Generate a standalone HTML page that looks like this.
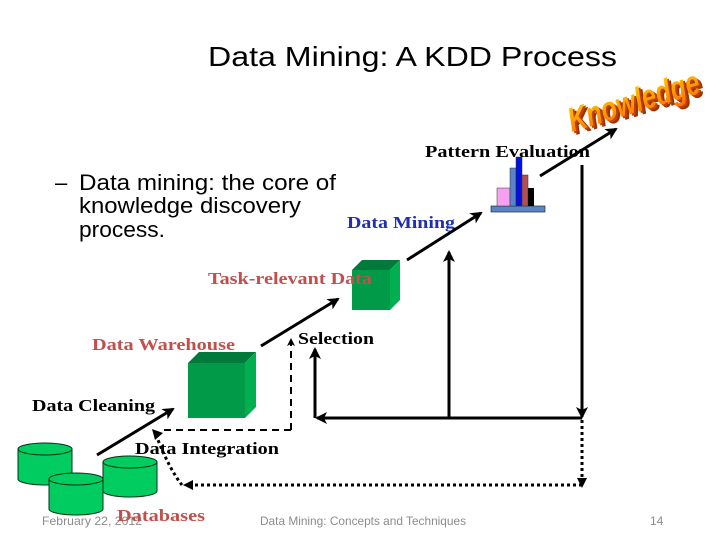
<!DOCTYPE html>
<html><head><meta charset="utf-8"><style>html,body{margin:0;padding:0;background:#fff}svg{display:block}</style></head>
<body>
<svg width="728" height="546" viewBox="0 0 728 546" xmlns="http://www.w3.org/2000/svg">
<defs>
<marker id="ah" markerWidth="8" markerHeight="8" refX="6" refY="4" orient="auto" markerUnits="userSpaceOnUse"><path d="M0,0 L8,4 L0,8 L2,4 z" fill="#000"/></marker>
<marker id="ahs" markerWidth="12" markerHeight="12" refX="10" refY="6" orient="auto" markerUnits="userSpaceOnUse"><path d="M0,0 L12,6 L0,12 L3,6 z" fill="#000"/></marker>
<linearGradient id="kg" x1="0" y1="0" x2="0" y2="1"><stop offset="0" stop-color="#ffd200"/><stop offset="1" stop-color="#ff6a00"/></linearGradient>
</defs>
<g font-family="Liberation Sans, sans-serif">
<text x="208" y="66" font-size="28" textLength="409" lengthAdjust="spacingAndGlyphs" fill="#000">Data Mining: A KDD Process</text>
<text x="55" y="190" font-size="22" fill="#000">–</text>
<text x="79" y="190" font-size="22" textLength="257" lengthAdjust="spacingAndGlyphs">Data mining: the core of</text>
<text x="79" y="213" font-size="22" textLength="222" lengthAdjust="spacingAndGlyphs">knowledge discovery</text>
<text x="79" y="237" font-size="22" textLength="86" lengthAdjust="spacingAndGlyphs">process.</text>
<text x="42" y="525" font-size="12" fill="#8c8c8c" textLength="100" lengthAdjust="spacingAndGlyphs">February 22, 2012</text>
<text x="260" y="525" font-size="12" fill="#8c8c8c" textLength="206" lengthAdjust="spacingAndGlyphs">Data Mining: Concepts and Techniques</text>
<text x="650" y="525" font-size="12" fill="#8c8c8c">14</text>
</g>
<g transform="translate(572,132) rotate(-17)" font-family="Liberation Sans, sans-serif" font-weight="bold" font-style="italic" font-size="34">
<text x="3" y="4" fill="#a03000" textLength="136" lengthAdjust="spacingAndGlyphs">Knowledge</text>
<text x="1.5" y="2" fill="#c04000" textLength="136" lengthAdjust="spacingAndGlyphs">Knowledge</text>
<text x="0" y="0" fill="url(#kg)" textLength="136" lengthAdjust="spacingAndGlyphs">Knowledge</text>
</g>
<rect x="491" y="206" width="54" height="6" fill="#5b84c4" stroke="#233" stroke-width="0.7"/>
<rect x="497" y="188" width="13" height="18" fill="#f7a0f0" stroke="#333" stroke-width="0.5"/>
<rect x="510" y="168" width="6" height="38" fill="#5b84c4" stroke="#333" stroke-width="0.5"/>
<rect x="516" y="157" width="6" height="49" fill="#0010e0" stroke="#333" stroke-width="0.5"/>
<rect x="522" y="175" width="6" height="31" fill="#b05050" stroke="#333" stroke-width="0.5"/>
<rect x="528" y="188" width="6" height="18" fill="#000"/>
<polygon points="352,270 362,260 400,260 390,270" fill="#007a3a"/>
<polygon points="390,270 400,260 400,300 390,310" fill="#00b050"/>
<rect x="352" y="270" width="38" height="40" fill="#009a48"/>
<polygon points="188,363 199,352 256,352 245,363" fill="#007a3a"/>
<polygon points="245,363 256,352 256,407 245,418" fill="#00b050"/>
<rect x="188" y="363" width="57" height="55" fill="#009a48"/>
<g font-family="Liberation Serif, serif" font-weight="bold" font-size="17">
<text x="425" y="157" fill="#000" textLength="165" lengthAdjust="spacingAndGlyphs">Pattern Evaluation</text>
<text x="347" y="228" fill="#1f2fb0" textLength="108" lengthAdjust="spacingAndGlyphs">Data Mining</text>
<text x="208" y="284" fill="#c0504d" textLength="164" lengthAdjust="spacingAndGlyphs">Task-relevant Data</text>
<text x="298" y="344" fill="#000" textLength="76" lengthAdjust="spacingAndGlyphs">Selection</text>
<text x="92" y="350" fill="#c0504d" textLength="143" lengthAdjust="spacingAndGlyphs">Data Warehouse</text>
<text x="32" y="411" fill="#000" textLength="123" lengthAdjust="spacingAndGlyphs">Data Cleaning</text>
<text x="135" y="454" fill="#000" textLength="144" lengthAdjust="spacingAndGlyphs">Data Integration</text>
</g>
<g fill="#00cc60" stroke="#003318" stroke-width="1">
<path d="M18,449 L18,479 A27,6 0 0 0 72,479 L72,449"/><ellipse cx="45" cy="449" rx="27" ry="6"/>
<path d="M103,462 L103,491 A27,6 0 0 0 157,491 L157,462"/><ellipse cx="130" cy="462" rx="27" ry="6"/>
<path d="M49,479 L49,509 A27,6 0 0 0 103,509 L103,479"/><ellipse cx="76" cy="479" rx="27" ry="6"/>
</g>
<text x="117" y="521" font-family="Liberation Serif, serif" font-weight="bold" font-size="17" fill="#c0504d" textLength="88" lengthAdjust="spacingAndGlyphs">Databases</text>
<g stroke="#000" stroke-width="3" fill="none">
<line x1="97" y1="455" x2="173" y2="409" marker-end="url(#ahs)"/>
<line x1="261" y1="346" x2="338" y2="299" marker-end="url(#ahs)"/>
<line x1="407" y1="260" x2="481" y2="213" marker-end="url(#ahs)"/>
<line x1="540" y1="176" x2="616" y2="129" marker-end="url(#ahs)"/>
<line x1="582" y1="165" x2="582" y2="417" marker-end="url(#ahs)"/>
<line x1="582" y1="418" x2="317" y2="418" marker-end="url(#ahs)"/>
<line x1="315" y1="418" x2="315" y2="349" marker-end="url(#ahs)"/>
<line x1="449" y1="418" x2="449" y2="252" marker-end="url(#ahs)"/>
</g>
<g stroke="#000" stroke-width="2" fill="none">
<polyline points="291,430 291,340" stroke-dasharray="7,5" marker-end="url(#ah)"/>
<polyline points="291,430 160,430" stroke-dasharray="7,5"/>
</g>
<path d="M152,429 L163,433 L155,440 z" fill="#000"/>
<g stroke="#000" stroke-width="3" fill="none" stroke-dasharray="3,3">
<line x1="582" y1="420" x2="582" y2="482"/>
<line x1="582" y1="485" x2="188" y2="485"/>
<path d="M182,485 Q170,470 158,440"/>
</g>
<path d="M577,478 L582,488 L587,478 z" fill="#000"/>
<path d="M193,480 L183,485 L193,490 z" fill="#000"/>
</svg>
</body></html>
